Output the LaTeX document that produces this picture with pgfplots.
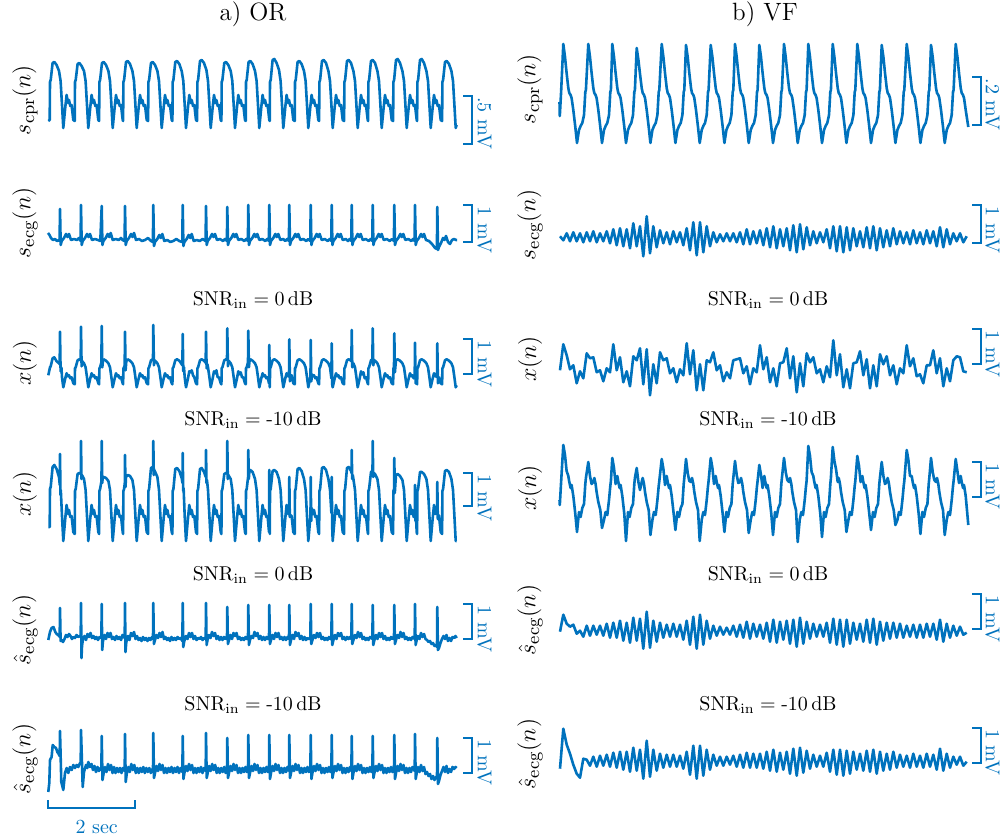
\documentclass[border=0pt]{standalone}
\usepackage{pgfplots}
\pgfplotsset{compat=1.18}
\usepackage{pgfplotstable}
\definecolor{mblue}{RGB}{0,114,189}
\pgfplotsset{
  panel/.style={x=0.5pt,y=0.5pt,xmin=0,xmax=410,ymin=-70,ymax=70,hide axis,clip=false,anchor=south west},
  trace/.style={mblue,line width=1.3pt,line join=round,no marks}
}
% VF column: time grid (px, 1 px = 23 ms), s_ecg, x(n) 0dB, shat 0dB, shat -10dB  (px, 35 px = 1 mV)
\pgfplotstableread{
x ecg xz shz sht
0.5 2 -2 0 -7
3.8 -2 24 17 33
7.2 5 13 8 17
10.5 -3 -1 5 8
13.8 6 3 7 -3
17.2 -3 -15 -2 -12
20.5 5 -3 1 -16
23.8 -4 -10 -5 3
27.2 6 15 6 2
30.5 -3 10 -4 -4
33.8 7 11 6 5
37.2 -4 -4 -3 -5
40.5 5 -2 6 6
43.8 -3 -13 -4 -4
47.2 7 0 8 7
50.5 -5 -4 -6 -5
53.8 9 24 9 9
57.2 -7 -2 -6 -6
60.5 10 11 11 10
63.8 -8 -14 -9 -8
67.2 9 -3 9 10
70.5 -10 -18 -11 -10
73.8 15 12 14 14
77.2 -8 8 -9 -9
80.5 12 20 13 12
83.8 -18 -16 -17 -17
87.2 22 19 20 21
90.5 -15 -27 -16 -15
93.8 12 4 11 12
97.2 -9 -15 -10 -9
100.5 8 16 9 8
103.8 -5 8 -6 -6
107.2 6 10 7 7
110.5 -6 -5 -5 -5
113.8 7 0 8 7
117.2 -4 -14 -5 -5
120.5 6 -1 7 6
123.8 -7 -7 -8 -7
127.2 10 25 11 10
130.5 -12 -6 -13 -13
133.8 16 18 15 16
137.2 -17 -22 -17 -17
140.5 16 4 17 16
143.8 -14 -22 -13 -14
147.2 12 8 11 12
150.5 -8 6 -7 -8
153.8 6 16 6 7
157.2 -4 -2 -4 -4
160.5 4 3 5 5
163.8 -3 -13 -3 -4
167.2 5 -4 4 5
170.5 -3 -10 -3 -3
173.8 5 8 6 6
177.2 -4 9 -5 -5
180.5 6 10 7 7
183.8 -6 -5 -6 -6
187.2 9 2 10 9
190.5 -6 -16 -7 -6
193.8 7 0 8 8
197.2 -5 -4 -5 -6
200.5 8 23 7 8
203.8 -7 -1 -7 -7
207.2 10 11 9 10
210.5 -9 -14 -10 -9
213.8 12 0 12 12
217.2 -10 -18 -11 -10
220.5 9 5 10 9
223.8 -8 6 -8 -8
227.2 10 20 11 10
230.5 -12 -10 -12 -12
233.8 13 12 12 13
237.2 -14 -24 -15 -14
240.5 14 5 14 14
243.8 -11 -18 -12 -11
247.2 11 15 10 11
250.5 -7 6 -7 -7
253.8 7 11 8 7
257.2 -5 -5 -5 -5
260.5 6 -1 7 6
263.8 -4 -14 -5 -5
267.2 9 2 9 9
270.5 -10 -9 -11 -10
273.8 12 28 13 12
277.2 -13 -7 -13 -13
280.5 12 14 12 12
283.8 -14 -19 -15 -14
287.2 11 -1 12 11
290.5 -12 -20 -12 -12
293.8 10 5 9 10
297.2 -8 6 -8 -8
300.5 7 17 8 8
303.8 -9 -7 -10 -9
307.2 11 9 12 11
310.5 -10 -20 -11 -10
313.8 12 3 13 12
317.2 -12 -18 -13 -12
320.5 10 14 10 10
323.8 -9 4 -9 -9
327.2 8 12 9 8
330.5 -8 -7 -7 -8
333.8 10 3 9 10
337.2 -6 -16 -6 -6
340.5 7 0 8 7
343.8 -5 -5 -6 -5
347.2 6 23 6 6
350.5 -6 2 -5 -6
353.8 8 10 7 8
357.2 -5 -8 -6 -5
360.5 6 -6 7 6
363.8 -6 -15 -6 -6
367.2 8 3 8 8
370.5 -5 3 -5 -5
373.8 7 18 8 7
377.2 -8 -5 -8 -8
380.5 11 10 12 13
383.8 -9 -18 -10 -9
387.2 9 0 8 8
390.5 -6 -13 -6 -6
393.8 5 8 6 5
397.2 -3 12 -4 -3
400.5 5 11 5 5
403.8 -4 -3 -3 -4
407.2 2 -4 -1 0
}\vfdata
\begin{document}
\begin{tikzpicture}
\useasboundingbox (0,0) rectangle (500pt,-419pt);
% ---------------- OR column ----------------
\begin{axis}[panel,at={(24pt,-82.5pt)}]
\addplot[trace] coordinates {(0.3,-26)(1.7,-25)(2.0,13)(2.7,15)(4.6,32)(6.3,33)(8.6,30)(11,24)(12.6,14)(14,-10)(15.3,-33)(17.3,-12)(18.6,0)(20,-8)(21,-5)(22.3,-11)(23.6,-10)(25.3,-25)
(26.7,-26)(27,13)(27.7,15)(29.6,31)(31.3,32)(33.6,29)(36,24)(37.6,14)(39,-10)(40.3,-33)(42.3,-12)(43.6,0)(45,-8)(46,-5)(47.3,-11)(48.6,-10)(50.3,-25)
(51.1,-26)(51.4,13)(52.1,15)(54,32)(55.7,33)(58,30)(60.4,24)(62,14)(63.4,-10)(64.7,-33)(66.7,-12)(68,0)(69.4,-8)(70.4,-5)(71.7,-11)(73,-10)(74.7,-25)
(75.1,-26)(75.4,13)(76.1,15)(78,33)(79.7,34)(82,31)(84.4,24)(86,14)(87.4,-10)(88.7,-33)(90.7,-12)(92,0)(93.4,-8)(94.4,-5)(95.7,-11)(97,-10)(98.7,-25)
(100.1,-26)(100.4,13)(101.1,15)(103,32)(104.7,33)(107,30)(109.4,24)(111,14)(112.4,-10)(113.7,-33)(115.7,-12)(117,0)(118.4,-8)(119.4,-5)(120.7,-11)(122,-10)(123.7,-25)
(124.4,-26)(124.7,13)(125.4,15)(127.3,33)(129,34)(131.3,31)(133.7,24)(135.3,14)(136.7,-10)(138,-33)(140,-12)(141.3,0)(142.7,-8)(143.7,-5)(145,-11)(146.3,-10)(148,-25)
(149.1,-26)(149.4,13)(150.1,15)(152,34)(153.7,35)(156,32)(158.4,25)(160,14)(161.4,-10)(162.7,-33)(164.7,-12)(166,0)(167.4,-8)(168.4,-5)(169.7,-11)(171,-10)(172.7,-25)
(173.4,-26)(173.7,13)(174.4,15)(176.3,32)(178,33)(180.3,30)(182.7,24)(184.3,14)(185.7,-10)(187,-33)(189,-12)(190.3,0)(191.7,-8)(192.7,-5)(194,-11)(195.3,-10)(197,-25)
(197.7,-26)(198,13)(198.7,15)(200.6,33)(202.3,34)(204.6,31)(207,24)(208.6,14)(210,-10)(211.3,-33)(213.3,-12)(214.6,0)(216,-8)(217,-5)(218.3,-11)(219.6,-10)(221.3,-25)
(221.7,-26)(222,13)(222.7,15)(224.6,35)(226.3,36)(228.6,32)(231,25)(232.6,14)(234,-10)(235.3,-33)(237.3,-12)(238.6,0)(240,-8)(241,-5)(242.3,-11)(243.6,-10)(245.3,-25)
(246.7,-26)(247,13)(247.7,15)(249.6,33)(251.3,34)(253.6,31)(256,24)(257.6,14)(259,-10)(260.3,-33)(262.3,-12)(263.6,0)(265,-8)(266,-5)(267.3,-11)(268.6,-10)(270.3,-25)
(271.1,-26)(271.4,13)(272.1,15)(274,34)(275.7,35)(278,32)(280.4,24)(282,14)(283.4,-10)(284.7,-33)(286.7,-12)(288,0)(289.4,-8)(290.4,-5)(291.7,-11)(293,-10)(294.7,-25)
(296.1,-26)(296.4,13)(297.1,15)(299,34)(300.7,35)(303,32)(305.4,24)(307,14)(308.4,-10)(309.7,-33)(311.7,-12)(313,0)(314.4,-8)(315.4,-5)(316.7,-11)(318,-10)(319.7,-25)
(320.1,-26)(320.4,13)(321.1,15)(323,34)(324.7,35)(327,32)(329.4,24)(331,14)(332.4,-10)(333.7,-33)(335.7,-12)(337,0)(338.4,-8)(339.4,-5)(340.7,-11)(342,-10)(343.7,-25)
(345.1,-26)(345.4,13)(346.1,15)(348,35)(349.7,36)(352,32)(354.4,24)(356,14)(357.4,-10)(358.7,-33)(360.7,-12)(362,0)(363.4,-8)(364.4,-5)(365.7,-11)(367,-10)(368.7,-25)
(369.1,-26)(369.4,13)(370.1,15)(372,35)(373.7,36)(376,32)(378.4,24)(380,14)(381.4,-10)(382.7,-33)(384.7,-12)(386,0)(387.4,-8)(388.4,-5)(389.7,-11)(391,-10)(392.7,-25)
(394.1,-26)(394.4,13)(395.1,15)(397,33)(398.7,34)(401,31)(403.4,24)(405,14)(406.4,-10)(407.7,-33)(408.7,-30)};
\end{axis}
\begin{axis}[panel,at={(24pt,-155pt)}]
\addplot[trace] coordinates {(0,7)(1.5,5)(3,2)(5,0)(7,1)(9,-1)(11,0)(11.6,-1)(12,31)(12.7,-5)(13.7,-1)(16,2)(18,6)(19.5,3)(21,6)(23,0)(26,1)(29,0)(31,2)(32.6,-1)
(33,35)(33.7,-5)(34.7,-1)(37,2)(39,6)(40.5,3)(42,6)(44,0)(47,1)(50,0)(52.3,-1)
(53.7,34)(54.4,-5)(55.4,-1)(57.7,2)(59.7,6)(61.2,3)(62.7,7)(64.7,0)(67.7,1)(70.7,0)(73,2)(74.5,0)(76.6,-1)
(77,34)(77.7,-5)(78.7,-1)(81,2)(83,6)(84.5,3)(86,7)(88,0)(91,1)(94,-1)(97,0)(100,2)(103,-1)(104.9,-2)
(105.3,35)(106,-6)(107,-2)(109.3,1)(111.3,5)(112.8,2)(114.3,6)(116.3,-1)(119.3,0)(122.3,-2)(125.3,-1)(128.3,1)(131.3,-1)(134.3,-2)
(134.7,35)(135.4,-6)(136.4,-2)(138.7,1)(140.7,5)(142.2,2)(143.7,6)(145.7,-1)(148.7,0)(151.7,-1)(154.7,1)(157.6,-1)
(158,34)(158.7,-5)(159.7,-1)(162,2)(164,6)(165.5,3)(167,6)(169,0)(172,1)(175,-1)(177,1)(178.9,-1)
(179.3,33)(180,-5)(181,-1)(183.3,2)(185.3,6)(186.8,3)(188.3,6)(190.3,0)(193.3,1)(196.3,-1)(198.3,1)(199.9,-1)
(200.3,35)(201,-5)(202,-1)(204.3,2)(206.3,6)(207.8,3)(209.3,6)(211.3,0)(214.3,1)(217.3,-1)(219.3,1)(220.9,-1)
(221.3,35)(222,-5)(223,-1)(225.3,2)(227.3,6)(228.8,3)(230.3,6)(232.3,0)(235.3,1)(237.3,-1)(239.3,1)(240.9,-1)
(241.3,35)(242,-5)(243,-1)(245.3,2)(247.3,6)(248.8,3)(250.3,6)(252.3,0)(255.3,1)(258.3,-1)(260.3,1)(262.3,-1)
(262.7,35)(263.4,-5)(264.4,-1)(266.7,2)(268.7,6)(270.2,3)(271.7,6)(273.7,0)(276.7,1)(279.7,-1)(281.7,1)(283.3,-1)
(283.7,35)(284.4,-5)(285.4,-1)(287.7,2)(289.7,6)(291.2,3)(292.7,6)(294.7,0)(297.7,1)(300,-1)(301.7,1)(303.3,-1)
(303.7,35)(304.4,-5)(305.4,-1)(307.7,2)(309.7,6)(311.2,3)(312.7,6)(314.7,0)(317.7,1)(320.7,-1)(322.7,1)(324.3,-1)
(324.7,35)(325.4,-5)(326.4,-1)(328.7,2)(330.7,6)(332.2,3)(333.7,6)(335.7,0)(338.7,1)(341.7,-1)(344,1)(345.9,-1)
(346.3,35)(347,-5)(348,-1)(350.3,2)(352.3,6)(353.8,3)(355.3,6)(357.3,0)(360.3,1)(363.3,-1)(365,1)(366.6,-1)
(367,35)(367.7,-5)(368.7,-1)(371,2)(373,6)(374.5,3)(376,6)(378,0)(381,-1)(384,-4)(387,-8)(388.9,-9)
(389.3,33)(390,-10)(391,-7)(393,-3)(395,2)(396.5,0)(398,4)(400,-2)(402,-4)(404,0)(406,1)(408,0)(409,0)};
\end{axis}
\begin{axis}[panel,at={(24pt,-221.65pt)}]
\addplot[trace] coordinates {(0.3,-2)(2,6)(2.7,7)(4.6,15)(6.3,16)(8.6,12)(11,10)(11.7,9)(12,41.6)(12.6,2)(13.4,6)(14,-4)(15.3,-14)(17.3,-5)(18.6,0)(20,-3)(21,-2)(22.3,-5)(23.6,-4)(25.3,-10)
(26.7,-11)(27,5)(27.7,6)(29.6,13)(31.3,14)(32.7,13)(33,46.6)(33.6,7)(34.3,12)(36,10)(37.6,6)(39,-4)(40.3,-14)(42.3,-5)(43.6,0)(45,-3)(46,-2)(47.3,-5)(48.6,-4)(50.3,-10)
(51.1,-11)(51.4,5)(52.1,6)(53.4,11)(53.7,47.3)(54.3,6)(55,13)(55.7,14)(58,12.6)(60.4,10)(62,6)(63.4,-4)(64.7,-14)(66.7,-5)(68,0)(69.4,-3)(70.4,-2)(71.7,-5)(73,-4)(74.7,-10)
(75.1,-11)(75.4,5)(76.1,6)(76.7,8)(77,41.6)(77.6,3)(78.3,12)(79.7,14)(82,12.6)(84.4,10)(86,6)(87.4,-4)(88.7,-14)(90.7,-5)(92,0)(93.4,-3)(94.4,-2)(95.7,-5)(97,-4)(98.7,-10)
(100.1,-11)(100.4,5)(101.1,6)(103,13)(104.7,14)(105,14)(105.3,48.3)(105.9,8)(106.7,13)(109.4,10)(111,6)(112.4,-4)(113.7,-14)(115.7,-5)(117,0)(118.4,-3)(119.4,-2)(120.7,-5)(122,-4)(123.7,-10)
(124.4,-11)(124.7,5)(125.4,6)(127.3,13)(129,14)(131.3,12.6)(133.7,9)(134.4,8)(134.7,39.3)(135.3,2)(136,6)(136.7,-4)(138,-14)(140,-5)(141.3,2)(142.7,1)(143.7,3)(145,-2)(146.3,-4)(148,-10)
(149.1,-11)(149.4,5)(150.1,6)(152,13)(153.7,14)(156,12.6)(157.7,10.5)(158,41.6)(158.6,5)(159.4,9)(160,6)(161.4,-4)(162.7,-14)(164.7,-5)(166,2)(167.4,0)(168.4,3)(169.7,-4)(171,-4)(172.7,-10)
(173.4,-11)(173.7,5)(174.4,6)(176.3,13)(178,14)(179,13.5)(179.3,45)(179.9,7)(180.6,12.6)(182.7,10)(184.3,6)(185.7,-4)(187,-14)(189,-5)(190.3,2)(191.7,-1)(192.7,1)(194,-4)(195.3,-4)(197,-10)
(197.7,-11)(198,5)(198.7,6)(200,11)(200.3,42.6)(200.9,6)(201.6,13)(202.3,14)(204.6,12.6)(207,10)(208.6,6)(210,-4)(211.3,-14)(213.3,-5)(214.6,0)(216,-3)(217,-2)(218.3,-5)(219.6,-4)(221,-10)(221.3,28.3)(221.8,-14)
(222.1,5)(222.7,6)(224.6,13)(226.3,14)(228.6,12.6)(231,10)(232.6,6)(234,-4)(235.3,-14)(237.3,-5)(238.6,0)(240,-3)(241,-3)(241.3,34)(241.9,-8)(242.6,-3)(243.6,-2)(245.3,-10)
(246.7,-11)(247,5)(247.7,6)(249.6,13)(251.3,14)(253.6,12.6)(256,10)(257.6,6)(259,-4)(260.3,-14)(262.3,-4)(262.5,-3)(262.7,33.3)(263.3,-8)(264,-1)(265,-3)(266,-2)(267.3,-5)(268.6,-4)(270.3,-10)
(271.1,-11)(271.4,5)(272.1,6)(274,13)(275.7,14)(278,12.6)(280.4,10)(282,6)(283.4,-5)(283.7,30)(284.3,-12)(284.7,-14)(286.7,-5)(288,0)(289.4,-3)(290.4,-2)(291.7,-5)(293,-4)(294.7,-10)
(296.1,-11)(296.4,5)(297.1,6)(299,13)(300.7,14)(303,12.6)(303.4,12)(303.7,43.3)(304.3,6)(305.4,10)(307,6)(308.4,-4)(309.7,-14)(311.7,-5)(313,2)(314.4,-1)(315.4,1)(316.7,-5)(318,-4)(319.7,-10)
(320.1,-11)(320.4,5)(321.1,6)(323,13)(324.4,14)(324.7,45)(325.3,8)(326,13)(327,12.6)(329.4,10)(331,6)(332.4,-4)(333.7,-14)(335.7,-5)(337,0)(338.4,-3)(339.4,-2)(340.7,-5)(342,-4)(343.7,-10)
(345.1,-11)(345.4,5)(346,6)(346.3,40)(346.9,1)(347.5,8)(348,13)(349.7,14)(352,12.6)(354.4,10)(356,6)(357.4,-4)(358.7,-14)(360.7,-5)(362,0)(363.4,-3)(364.4,-2)(365.7,-5)(366.7,-4)(367,30.6)(367.6,-10)(368.3,-4)(368.7,-10)
(369.1,-11)(369.4,5)(370.1,6)(372,13)(373.7,14)(376,12.6)(378.4,10)(380,6)(381.4,-4)(382.7,-14)(384.7,-5)(386,0)(387.4,-3)(388.4,-2)(389,-4)(389.3,30)(389.9,-10)(390.6,-5)(391,-4)(392.7,-10)
(394.1,-11)(394.4,5)(395.1,6)(397,13)(398.7,14)(401,12.6)(403.4,10)(405,6)(406.4,-4)(407.7,-14)(408.7,-12)};
\end{axis}
\begin{axis}[panel,at={(24pt,-287.5pt)}]
\addplot[trace] coordinates {(0.3,-22)(1.7,-22)(2,16)(2.7,18)(4.6,38)(6.3,40)(8.6,36)(11,28)(11.8,20)(12,51)(12.5,10)(12.8,15)(14,-11)(15.3,-36)(17.3,-13)(18.6,0)(20,-9)(21,-5)(22.3,-12)(23.6,-11)(25.3,-27)
(26.7,-29)(27,14)(27.7,16)(29.6,31)(31.3,32)(32.8,31)(33,64)(33.5,26)(33.9,30)(36,26)(37.6,15)(39,-11)(40.3,-36)(42.3,-13)(43.6,0)(45,-9)(46,-5)(47.3,-12)(48.6,-11)(50.3,-27)
(51.1,-29)(51.4,14)(52.1,16)(53.5,24)(53.7,64)(54.2,22)(54.8,28)(55.7,28)(58,27)(60.4,24)(62,15)(63.4,-11)(64.7,-36)(66.7,-13)(68,0)(69.4,-9)(70.4,-5)(71.7,-12)(73,-11)(74.7,-27)
(75.1,-29)(75.4,14)(76.1,16)(76.8,22)(77,50)(77.5,18)(78,28)(79.7,30)(82,29)(84.4,25)(86,15)(87.4,-11)(88.7,-36)(90.7,-13)(92,0)(93.4,-9)(94.4,-5)(95.7,-12)(97,-11)(98.7,-27)
(100.1,-29)(100.4,14)(101.1,16)(103,37)(104.7,38)(105.1,37)(105.3,64)(105.8,30)(106.3,35)(109.4,28)(111,15)(112.4,-11)(113.7,-36)(115.7,-13)(117,0)(118.4,-9)(119.4,-5)(120.7,-12)(122,-11)(123.7,-27)
(124.4,-29)(124.7,14)(125.4,16)(127.3,36)(129,37)(131.3,34)(133.7,27)(134.5,22)(134.7,52)(135.2,14)(135.6,17)(136.7,-11)(138,-36)(140,-13)(141.3,0)(142.7,-9)(143.7,-5)(145,-12)(146.3,-11)(148,-27)
(149.1,-29)(149.4,14)(150.1,16)(152,36)(153.7,37)(156,33)(157.8,28)(158,55)(158.5,22)(159,25)(160,15)(161.4,-11)(162.7,-36)(164.7,-13)(166,0)(167.4,-9)(168.4,-5)(169.7,-12)(171,-11)(172.7,-27)
(173.4,-29)(173.7,14)(174.4,16)(176.3,31)(178,32)(179.1,32)(179.3,64)(179.8,26)(180.3,30)(182.7,26)(184.3,15)(185.7,-11)(187,-36)(189,-13)(190.3,0)(191.7,-9)(192.7,-5)(194,-12)(195.3,-11)(197,-27)
(197.7,-29)(198,14)(198.7,16)(200.1,28)(200.3,55)(200.8,26)(201.3,33)(202.3,35)(204.6,33)(207,26)(208.6,15)(210,-11)(211.3,-36)(213.3,-13)(214.6,0)(216,-9)(217,-5)(218.3,-12)(219.6,-11)(221,-27)(221.3,35)(221.8,-29)
(222,14)(222.7,16)(224.6,34)(226.3,35)(228.6,33)(231,26)(232.6,15)(234,-11)(235.3,-36)(237.3,-13)(238.6,0)(240,-9)(241.1,-6)(241.3,28)(241.8,-12)(242.3,-10)(243.6,-11)(245.3,-27)
(246.7,-29)(247,14)(247.7,16)(249.6,36)(251.3,37)(253.6,34)(256,26)(257.6,15)(259,-11)(260.3,-36)(262.3,-13)(262.5,-11)(262.7,28)(263.2,-16)(263.6,-3)(265,-9)(266,-5)(267.3,-12)(268.6,-11)(270.3,-27)
(271.1,-29)(271.4,14)(272.1,16)(274,37)(275.7,38)(278,35)(280.4,26)(282,15)(283.4,-8)(283.7,28)(284.2,-22)(284.7,-36)(286.7,-13)(288,0)(289.4,-9)(290.4,-5)(291.7,-12)(293,-11)(294.7,-27)
(296.1,-29)(296.4,14)(297.1,16)(299,37)(300.7,38)(303,34)(303.5,32)(303.7,55)(304.2,26)(304.8,30)(305.4,26)(307,15)(308.4,-11)(309.7,-36)(311.7,-13)(313,0)(314.4,-9)(315.4,-5)(316.7,-12)(318,-11)(319.7,-27)
(320.1,-29)(320.4,14)(321.1,16)(323,33)(324.5,34)(324.7,64)(325.2,28)(325.8,32)(327,31)(329.4,26)(331,15)(332.4,-11)(333.7,-36)(335.7,-13)(337,0)(338.4,-9)(339.4,-5)(340.7,-12)(342,-11)(343.7,-27)
(345.1,-29)(345.4,14)(346.1,16)(346.3,47)(346.8,12)(347.3,20)(348,30)(349.7,31)(352,29)(354.4,25)(356,15)(357.4,-11)(358.7,-36)(360.7,-13)(362,0)(363.4,-9)(364.4,-5)(365.7,-12)(366.8,-11)(367,20)(367.5,-16)(368,-12)(368.7,-27)
(369.1,-29)(369.4,14)(370.1,16)(372,33)(373.7,33)(376,31)(378.4,26)(380,15)(381.4,-11)(382.7,-36)(384.7,-13)(386,0)(387.4,-9)(388.4,-5)(389.1,-8)(389.3,23)(389.8,-14)(390.3,-10)(391,-11)(392.7,-27)
(394.1,-29)(394.4,14)(395.1,16)(397,34)(398.7,35)(401,33)(403.4,26)(405,15)(406.4,-11)(407.7,-36)(408.7,-36)};
\end{axis}
\begin{axis}[panel,at={(24pt,-354pt)}]
\addplot[trace] coordinates {(0.3,-2)(2,6)(3.6,10)(5.5,11)(7.3,6)(8.7,4)(10,3)(11.3,2)(11.7,1)(12,30)(12.6,-3)(13.5,-2)(15,-4)(16.5,-1)(18,3)(19.5,1)(21,4)(22.5,2)(24,-1)(25.5,1)(27,0)(28.5,3)(30,1)(31.5,2)(32.7,1)
(33,35)(33.5,-20)(34,-8)(35,-1)(36.5,2)(38,-2)(39.5,4)(41,1)(42.5,5)(44,0)(45.5,2)(47,-1)(48.5,1)(50,-2)(51.5,1)(53.4,0)
(53.7,34)(54.2,-12)(55,-3)(56.5,3)(58,-1)(59.5,5)(61,1)(62.5,5)(64,-1)(65.5,1)(67,-2)(68.5,2)(70,-1)(71.5,1)(73,-2)(74.5,3)(76.7,0)
(77,35)(77.5,-14)(78.3,-4)(80,2)(81.5,-2)(83,5)(84.5,2)(86,6)(87.5,-1)(89,2)(90.5,-2)(92,0)(93.5,-3)(95,1)(96.5,-2)(98,0)(99.5,-3)(101,0)(102.5,-2)(104,1)(105,-1)
(105.3,35)(105.9,-6)(107,-2)(108.5,3)(110,0)(111.5,5)(113,1)(114.5,6)(116,-1)(117.5,1)(119,-2)(120.5,0)(122,-3)(123.5,1)(125,-2)(126.5,0)(128,-2)(129.5,1)(131,-1)(132.5,0)(134.4,-3)
(134.7,35)(135.3,-9)(136.3,-3)(138,2)(139.5,-1)(141,5)(142.5,1)(144,5)(145.5,-1)(147,2)(148.5,-2)(150,0)(151.5,-1)(153,1)(154.5,-2)(156,0)(157.7,-1)
(158,35)(158.6,-7)(159.5,-2)(161,3)(162.5,0)(164,6)(165.5,2)(167,5)(168.5,-1)(170,2)(171.5,-2)(173,1)(174.5,-2)(176,1)(177.5,-1)(179,0)
(179.3,31)(179.9,-6)(181,-2)(182.5,3)(184,-1)(185.5,5)(187,2)(188.5,5)(190,-1)(191.5,1)(193,-2)(194.5,0)(196,-2)(197.5,1)(199,-1)(200,0)
(200.3,33)(200.9,-7)(202,-2)(203.5,2)(205,0)(206.5,6)(208,2)(209.5,5)(211,-1)(212.5,2)(214,-2)(215.5,1)(217,-2)(218.5,1)(220,-1)(221,0)
(221.3,33)(221.9,-6)(223,-2)(224.5,3)(226,-1)(227.5,5)(229,1)(230.5,5)(232,-1)(233.5,1)(235,-2)(236.5,1)(238,-2)(239.5,1)(241,-1)
(241.3,33)(241.9,-7)(243,-2)(244.5,3)(246,-1)(247.5,6)(249,2)(250.5,5)(252,-1)(253.5,2)(255,-2)(256.5,1)(258,-2)(259.5,0)(261,-1)(262.4,0)
(262.7,34)(263.3,-6)(264.4,-2)(266,3)(267.5,0)(269,5)(270.5,1)(272,5)(273.5,-1)(275,1)(276.5,-2)(278,0)(279.5,-2)(281,1)(282.5,-1)(283.4,0)
(283.7,34)(284.3,-7)(285.4,-2)(287,3)(288.5,-1)(290,5)(291.5,2)(293,5)(294.5,-1)(296,1)(297.5,-2)(299,1)(300.5,-1)(302,1)(303.4,-1)
(303.7,34)(304.3,-6)(305.4,-2)(307,3)(308.5,0)(310,6)(311.5,1)(313,5)(314.5,-1)(316,1)(317.5,-2)(319,0)(320.5,-2)(322,1)(323.5,0)(324.4,-1)
(324.7,33)(325.3,-7)(326.4,-2)(328,3)(329.5,-1)(331,5)(332.5,1)(334,5)(335.5,-1)(337,2)(338.5,-2)(340,0)(341.5,-2)(343,1)(344.5,-1)(346,0)
(346.3,33)(346.9,-6)(348,-2)(349.5,3)(351,0)(352.5,6)(354,1)(355.5,5)(357,-1)(358.5,1)(360,-2)(361.5,0)(363,-2)(364.5,1)(366.7,-1)
(367,34)(367.6,-7)(368.7,-2)(370,2)(371.5,-1)(373,5)(374.5,1)(376,4)(377.5,-1)(379,-2)(380.5,-4)(382,-3)(383.5,-6)(385,-5)(386.5,-8)(388,-7)(389,-9)
(389.3,31)(389.9,-12)(391,-10)(392.5,-5)(394,-1)(395.5,2)(397,-1)(398.5,3)(400,-3)(401.5,0)(403,-3)(404.5,1)(406,0)(407.5,2)(408.7,0)};
\end{axis}
\begin{axis}[panel,at={(24pt,-420pt)}]
\addplot[trace] coordinates {(0.3,-22)(1.3,-13)(2,10)(3.6,13)(4.7,25)(6.3,23)(8,22)(9.3,18)(10.7,16)(11.7,14)
(12,39)(13.3,-12)(15.3,-20)(17,-3)(18.7,2)(20.3,-3)(22,3)(23.7,0)(25.3,5)(27,2)(28.7,5)(30.3,3)(32,7)(32.7,6)
(33,40)(34.7,-17)(36,-2)(38,5)(39.3,2)(40.3,8)(42,3)(43.5,6)(45,0)(46.5,4)(48,-2)(49.5,3)(51,-1)(52.5,2)(53.4,0)
(53.7,34)(54.5,-10)(55.5,-4)(57,3)(58.5,-2)(60,6)(61.5,0)(63,5)(64.5,-3)(66,3)(67.5,-3)(69,2)(70.5,-2)(72,2)(73.5,-3)(75,2)(76.7,-1)
(77,36)(77.7,-12)(78.7,-4)(80.3,3)(81.8,-2)(83.3,6)(84.8,0)(86.3,5)(87.8,-3)(89.3,2)(90.8,-3)(92.3,2)(93.8,-2)(95.3,3)(96.8,-3)(98.3,2)(99.8,-2)(101.3,2)(102.8,-3)(104.3,1)(105,-1)
(105.3,37)(106,-8)(107,-3)(108.5,4)(110,-1)(111.5,6)(113,0)(114.5,5)(116,-3)(117.5,2)(119,-3)(120.5,2)(122,-2)(123.5,3)(125,-3)(126.5,2)(128,-2)(129.5,3)(131,-3)(132.5,2)(134.4,-2)
(134.7,34)(135.4,-9)(136.4,-3)(138,4)(139.5,-1)(141,6)(142.5,0)(144,5)(145.5,-3)(147,2)(148.5,-3)(150,2)(151.5,-2)(153,3)(154.5,-3)(156,2)(157.7,-1)
(158,37)(158.7,-8)(159.7,-3)(161.2,4)(162.7,-1)(164.2,6)(165.7,0)(167.2,5)(168.7,-3)(170.2,2)(171.7,-3)(173.2,2)(174.7,-2)(176.2,3)(177.7,-3)(179,0)
(179.3,32)(180,-8)(181,-3)(182.5,4)(184,-1)(185.5,6)(187,0)(188.5,5)(190,-3)(191.5,2)(193,-3)(194.5,2)(196,-2)(197.5,3)(199,-2)(200,0)
(200.3,35)(201,-8)(202,-3)(203.5,4)(205,-1)(206.5,6)(208,0)(209.5,5)(211,-3)(212.5,2)(214,-3)(215.5,2)(217,-2)(218.5,3)(220,-2)(221,0)
(221.3,35)(222,-9)(223,-3)(224.5,4)(226,-1)(227.5,6)(229,0)(230.5,5)(232,-3)(233.5,2)(235,-3)(236.5,2)(238,-2)(239.5,3)(241,-1)
(241.3,35)(242,-8)(243,-3)(244.5,4)(246,-1)(247.5,6)(249,0)(250.5,5)(252,-3)(253.5,2)(255,-3)(256.5,2)(258,-2)(259.5,3)(261,-2)(262.4,0)
(262.7,35)(263.4,-9)(264.4,-3)(266,4)(267.5,-1)(269,6)(270.5,0)(272,5)(273.5,-3)(275,2)(276.5,-3)(278,2)(279.5,-2)(281,3)(282.5,-2)(283.4,0)
(283.7,35)(284.4,-8)(285.4,-3)(287,4)(288.5,-1)(290,6)(291.5,0)(293,5)(294.5,-3)(296,2)(297.5,-3)(299,2)(300.5,-2)(302,3)(303.4,-1)
(303.7,34)(304.4,-9)(305.4,-3)(307,4)(308.5,-1)(310,6)(311.5,0)(313,5)(314.5,-3)(316,2)(317.5,-3)(319,2)(320.5,-2)(322,3)(323.5,-2)(324.4,0)
(324.7,34)(325.4,-8)(326.4,-3)(328,4)(329.5,-1)(331,6)(332.5,0)(334,5)(335.5,-3)(337,2)(338.5,-3)(340,2)(341.5,-2)(343,3)(344.5,-2)(346,0)
(346.3,35)(347,-9)(348,-3)(349.5,4)(351,-1)(352.5,6)(354,0)(355.5,5)(357,-3)(358.5,2)(360,-3)(361.5,2)(363,-2)(364.5,3)(366.7,-1)
(367,36)(367.7,-9)(368.7,-3)(370,3)(371.5,-2)(373,5)(374.5,-1)(376,3)(377.5,-4)(379,-2)(380.5,-6)(382,-4)(383.5,-9)(385,-6)(386.5,-10)(388,-7)(389,-8)
(389.3,32)(390,-14)(391,-11)(392.5,-5)(394,-1)(395.5,3)(397,-2)(398.5,4)(400,-3)(401.5,1)(403,-2)(404.5,3)(406,1)(407.5,3)(408.7,2)};
\end{axis}
% ---------------- VF column ----------------
\begin{axis}[panel,at={(279.75pt,-85pt)}]
\addplot[trace] coordinates {(0,-2)(0.3,-16)(1.6,8)
(3.8,56)(5.5,43)(7.1,27)(8.8,12)(9.8,7)(11.1,5)(12.1,2)(13.8,-10)(15.8,-27)(17.5,-43)(19.5,-30)(21.1,-26)(22.8,-23)(24.5,-15)(25.8,8)(26.4,10)
(28.8,56)(30.5,43)(32.1,27)(33.8,12)(34.8,7)(36.1,5)(37.1,2)(38.8,-10)(40.8,-27)(42.5,-43)(44.5,-30)(46.1,-26)(47.8,-23)(49.5,-15)(50.8,8)(51.4,10)
(52.8,56)(54.5,43)(56.1,27)(57.8,12)(58.8,7)(60.1,5)(61.1,2)(62.8,-10)(64.8,-27)(66.5,-43)(68.5,-30)(70.1,-26)(71.8,-23)(73.5,-15)(74.8,8)(75.4,10)
(77.2,52)(78.9,40)(80.5,26)(82.2,12)(83.2,7)(84.5,5)(85.5,2)(87.2,-10)(89.2,-27)(90.9,-43)(92.9,-30)(94.5,-26)(96.2,-23)(97.9,-15)(99.2,8)(99.8,10)
(102.2,56)(103.9,43)(105.5,27)(107.2,12)(108.2,7)(109.5,5)(110.5,2)(112.2,-10)(114.2,-27)(115.9,-43)(117.9,-30)(119.5,-26)(121.2,-23)(122.9,-15)(124.2,8)(124.8,10)
(126.5,55)(128.2,43)(129.8,27)(131.5,12)(132.5,7)(133.8,5)(134.8,2)(136.5,-10)(138.5,-27)(140.2,-43)(142.2,-30)(143.8,-26)(145.5,-23)(147.2,-15)(148.5,8)(149.1,10)
(151.2,55)(152.9,43)(154.5,27)(156.2,12)(157.2,7)(158.5,5)(159.5,2)(161.2,-10)(163.2,-27)(164.9,-43)(166.9,-30)(168.5,-26)(170.2,-23)(171.9,-15)(173.2,8)(173.8,10)
(175.5,56)(177.2,43)(178.8,27)(180.5,12)(181.5,7)(182.8,5)(183.8,2)(185.5,-10)(187.5,-27)(189.2,-43)(191.2,-30)(192.8,-26)(194.5,-23)(196.2,-15)(197.5,8)(198.1,10)
(199.8,55)(201.5,43)(203.1,27)(204.8,12)(205.8,7)(207.1,5)(208.1,2)(209.8,-10)(211.8,-27)(213.5,-43)(215.5,-30)(217.1,-26)(218.8,-23)(220.5,-15)(221.8,8)(222.4,10)
(224.5,56)(226.2,43)(227.8,27)(229.5,12)(230.5,7)(231.8,5)(232.8,2)(234.5,-10)(236.5,-27)(238.2,-43)(240.2,-30)(241.8,-26)(243.5,-23)(245.2,-15)(246.5,8)(247.1,10)
(248.8,56)(250.5,43)(252.1,27)(253.8,12)(254.8,7)(256.1,5)(257.1,2)(258.8,-10)(260.8,-27)(262.5,-43)(264.5,-30)(266.1,-26)(267.8,-23)(269.5,-15)(270.8,8)(271.4,10)
(273.2,56)(274.9,43)(276.5,27)(278.2,12)(279.2,7)(280.5,5)(281.5,2)(283.2,-10)(285.2,-27)(286.9,-43)(288.9,-30)(290.5,-26)(292.2,-23)(293.9,-15)(295.2,8)(295.8,10)
(297.8,56)(299.5,43)(301.1,27)(302.8,12)(303.8,7)(305.1,5)(306.1,2)(307.8,-10)(309.8,-27)(311.5,-43)(313.5,-30)(315.1,-26)(316.8,-23)(318.5,-15)(319.8,8)(320.4,10)
(322.2,55)(323.9,43)(325.5,27)(327.2,12)(328.2,7)(329.5,5)(330.5,2)(332.2,-10)(334.2,-27)(335.9,-43)(337.9,-30)(339.5,-26)(341.2,-23)(342.9,-15)(344.2,8)(344.8,10)
(347.2,56)(348.9,43)(350.5,27)(352.2,12)(353.2,7)(354.5,5)(355.5,2)(357.2,-10)(359.2,-27)(360.9,-43)(362.9,-30)(364.5,-26)(366.2,-23)(367.9,-15)(369.2,8)(369.8,10)
(371.5,55)(373.2,43)(374.8,27)(376.5,12)(377.5,7)(378.8,5)(379.8,2)(381.5,-10)(383.5,-27)(385.2,-43)(387.2,-30)(388.8,-26)(390.5,-23)(392.2,-15)(393.5,8)(394.1,10)
(396.2,56)(397.9,43)(399.5,27)(401.2,12)(402.2,7)(403.5,5)(404.5,2)(406.2,-10)(408.8,-27)};
\end{axis}
\begin{axis}[panel,at={(279.75pt,-154.15pt)}]
\addplot[trace] table[x=x,y=ecg]{\vfdata};
\end{axis}
\begin{axis}[panel,at={(279.75pt,-219.15pt)}]
\addplot[trace] table[x=x,y=xz]{\vfdata};
\end{axis}
\begin{axis}[panel,at={(279.75pt,-280pt)}]
\addplot[trace] coordinates {(0,-10)(0.3,-15)(1.6,8)
(3.8,45)(5.5,35)(7.1,19)(8.8,14)(9.8,8)(11.1,2)(12.1,5)(13.8,-6)(15.8,-24)(17.5,-42)(19.5,-22)(21.1,-27)(22.8,-18)(24.5,-14)(25.8,6)(26.4,12)
(28.8,28)(30.5,14)(32.1,6)(33.8,8)(34.8,12)(36.1,6)(37.1,-2)(38.8,-12)(40.8,-20)(42.5,-38)(44.5,-30)(46.1,-22)(47.8,-25)(49.5,-10)(50.8,4)(51.4,9)
(52.8,32)(54.5,22)(56.1,6)(57.8,14)(58.8,8)(60.1,2)(61.1,5)(62.8,-6)(64.8,-24)(66.5,-51)(68.5,-22)(70.1,-27)(71.8,-18)(73.5,-14)(74.8,6)(75.4,12)
(77.2,22)(78.9,8)(80.5,0)(82.2,8)(83.2,12)(84.5,6)(85.5,-2)(87.2,-12)(89.2,-20)(90.9,-45)(92.9,-30)(94.5,-22)(96.2,-25)(97.9,-10)(99.2,4)(99.8,9)
(102.2,31)(103.9,21)(105.5,5)(107.2,14)(108.2,8)(109.5,2)(110.5,5)(112.2,-6)(114.2,-24)(115.9,-40)(117.9,-22)(119.5,-27)(121.2,-18)(122.9,-14)(124.2,6)(124.8,12)
(126.5,31)(128.2,17)(129.8,9)(131.5,8)(132.5,12)(133.8,6)(134.8,-2)(136.5,-12)(138.5,-20)(140.2,-51)(142.2,-30)(143.8,-22)(145.5,-25)(147.2,-10)(148.5,4)(149.1,9)
(151.2,32)(152.9,22)(154.5,6)(156.2,14)(157.2,8)(158.5,2)(159.5,5)(161.2,-6)(163.2,-24)(164.9,-42)(166.9,-22)(168.5,-27)(170.2,-18)(171.9,-14)(173.2,6)(173.8,12)
(175.5,29)(177.2,15)(178.8,7)(180.5,8)(181.5,12)(182.8,6)(183.8,-2)(185.5,-12)(187.5,-20)(189.2,-43)(191.2,-30)(192.8,-22)(194.5,-25)(196.2,-10)(197.5,4)(198.1,9)
(199.8,25)(201.5,15)(203.1,2)(204.8,14)(205.8,8)(207.1,2)(208.1,5)(209.8,-6)(211.8,-24)(213.5,-45)(215.5,-22)(217.1,-27)(218.8,-18)(220.5,-14)(221.8,6)(222.4,12)
(224.5,32)(226.2,18)(227.8,10)(229.5,8)(230.5,12)(231.8,6)(232.8,-2)(234.5,-12)(236.5,-20)(238.2,-52)(240.2,-30)(241.8,-22)(243.5,-25)(245.2,-10)(246.5,4)(247.1,9)
(248.8,44)(250.5,34)(252.1,18)(253.8,14)(254.8,8)(256.1,2)(257.1,5)(258.8,-6)(260.8,-24)(262.5,-47)(264.5,-22)(266.1,-27)(267.8,-18)(269.5,-14)(270.8,6)(271.4,12)
(273.2,43)(274.9,29)(276.5,21)(278.2,8)(279.2,12)(280.5,6)(281.5,-2)(283.2,-12)(285.2,-20)(286.9,-42)(288.9,-30)(290.5,-22)(292.2,-25)(293.9,-10)(295.2,4)(295.8,9)
(297.8,34)(299.5,24)(301.1,8)(302.8,14)(303.8,8)(305.1,2)(306.1,5)(307.8,-6)(309.8,-24)(311.5,-40)(313.5,-22)(315.1,-27)(316.8,-18)(318.5,-14)(319.8,6)(320.4,12)
(322.2,28)(323.9,14)(325.5,6)(327.2,8)(328.2,12)(329.5,6)(330.5,-2)(332.2,-12)(334.2,-20)(335.9,-35)(337.9,-30)(339.5,-22)(341.2,-25)(342.9,-10)(344.2,4)(344.8,9)
(347.2,40)(348.9,30)(350.5,14)(352.2,14)(353.2,8)(354.5,2)(355.5,5)(357.2,-6)(359.2,-24)(360.9,-44)(362.9,-22)(364.5,-27)(366.2,-18)(367.9,-14)(369.2,6)(369.8,12)
(371.5,32)(373.2,18)(374.8,10)(376.5,8)(377.5,12)(378.8,6)(379.8,-2)(381.5,-12)(383.5,-20)(385.2,-45)(387.2,-30)(388.8,-22)(390.5,-25)(392.2,-10)(393.5,4)(394.1,9)
(396.2,31)(397.9,19)(399.5,7)(401.2,14)(402.2,8)(403.5,2)(404.5,5)(406.2,-6)(408.8,-35)};
\end{axis}
\begin{axis}[panel,at={(279.75pt,-350.85pt)}]
\addplot[trace] table[x=x,y=shz]{\vfdata};
\end{axis}
\begin{axis}[panel,at={(279.75pt,-415.85pt)}]
\addplot[trace] table[x=x,y=sht]{\vfdata};
\end{axis}
% ---------------- annotations (pixel coordinates) ----------------
\begin{scope}[x=0.5pt,y=-0.5pt]
\tikzset{lab/.style={font=\fontsize{12.5}{15}\selectfont},
 ylab/.style={font=\fontsize{12.5}{15}\selectfont,rotate=90},
 snr/.style={font=\fontsize{10}{12}\selectfont},
 sb/.style={mblue,line width=1pt},
 sbl/.style={mblue,rotate=-90,anchor=south west,inner sep=0pt,font=\fontsize{10}{12}\selectfont}}
\node[lab] at (253,14) {a) OR};
\node[lab] at (765,14) {b) VF};
\foreach \yy/\tt in {300/0,420/-10,575/0,705/-10}{
  \node[snr] at (253,\yy) {$\mathrm{SNR}_{\mathrm{in}} = \mbox{\tt}\,\mathrm{dB}$};
  \node[snr] at (768,\yy) {$\mathrm{SNR}_{\mathrm{in}} = \mbox{\tt}\,\mathrm{dB}$};
}
\node[ylab] at (25,100) {$s_{\mathrm{cpr}}(n)$};
\node[ylab] at (25,223) {$s_{\mathrm{ecg}}(n)$};
\node[ylab] at (25,363) {$x(n)$};
\node[ylab] at (25,494) {$x(n)$};
\node[ylab] at (25,630) {$\hat{s}_{\mathrm{ecg}}(n)$};
\node[ylab] at (25,759) {$\hat{s}_{\mathrm{ecg}}(n)$};
\node[ylab] at (530,89) {$s_{\mathrm{cpr}}(n)$};
\node[ylab] at (530,225) {$s_{\mathrm{ecg}}(n)$};
\node[ylab] at (530,359) {$x(n)$};
\node[ylab] at (530,488) {$x(n)$};
\node[ylab] at (530,620) {$\hat{s}_{\mathrm{ecg}}(n)$};
\node[ylab] at (530,754) {$\hat{s}_{\mathrm{ecg}}(n)$};
% scale bars, left column
\foreach \a/\b/\l in {96/144/.5 mV,205/241.7/1 mV,339.3/374/1 mV,473.3/505.7/1 mV,604/639/1 mV,737.7/773.3/1 mV}{
  \draw[sb] (463,\a) -- (472,\a) -- (472,\b) -- (463,\b);
  \node[sbl] at (477,\a+1) {\l};
}
% scale bars, right column
\foreach \a/\b/\l in {77.3/125/.2 mV,205/242.7/1 mV,329/364.3/1 mV,461.7/496.7/1 mV,594.3/629.3/1 mV,727.7/763.3/1 mV}{
  \draw[sb] (972,\a) -- (981,\a) -- (981,\b) -- (972,\b);
  \node[sbl] at (985,\a+1) {\l};
}
% time bar
\draw[sb] (48.3,800) -- (48.3,808.3) -- (135,808.3) -- (135,800);
\node[mblue,font=\fontsize{10}{12}\selectfont] at (96.7,826.7) {2 sec};
\end{scope}
\end{tikzpicture}
\end{document}
